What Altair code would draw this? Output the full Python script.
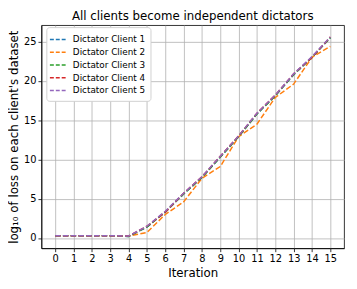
import altair as alt
import pandas as pd

iterations = list(range(16))
client1 = [0.3, 0.3, 0.3, 0.3, 0.2, 1.4, 3.3, 5.6, 7.7, 10.3, 12.9, 15.8, 18.1, 20.8, 23.0, 25.5]
client2 = [0.3, 0.3, 0.3, 0.3, 0.25, 0.7, 3.0, 4.6, 7.6, 9.1, 12.9, 14.5, 17.9, 19.6, 23.0, 24.4]
client3 = [0.3, 0.3, 0.3, 0.3, 0.2, 1.4, 3.3, 5.6, 7.7, 10.3, 12.9, 15.8, 18.1, 20.8, 23.0, 25.5]
client4 = [0.3, 0.3, 0.3, 0.3, 0.25, 1.5, 3.3, 5.7, 7.8, 10.4, 13.0, 15.9, 18.2, 20.9, 23.0, 25.6]
client5 = [0.3, 0.3, 0.3, 0.3, 0.25, 1.5, 3.4, 5.7, 7.8, 10.4, 13.0, 15.9, 18.2, 20.9, 23.1, 25.6]

names = ["Dictator Client 1", "Dictator Client 2", "Dictator Client 3",
         "Dictator Client 4", "Dictator Client 5"]
colors = ["#1f77b4", "#ff7f0e", "#2ca02c", "#d62728", "#9467bd"]
series = [client1, client2, client3, client4, client5]

rows = []
for i, (n, s) in enumerate(zip(names, series)):
    for x, v in zip(iterations, s):
        rows.append({"Iteration": x, "value": v, "client": n, "ord": i})
df = pd.DataFrame(rows)

chart = alt.Chart(df).mark_line(strokeDash=[5.5, 2.4], strokeWidth=1.5, clip=True).encode(
    x=alt.X("Iteration:Q",
            scale=alt.Scale(domain=[-0.75, 15.75], nice=False, zero=False),
            axis=alt.Axis(values=iterations, title="Iteration", grid=True, format="d",
                          titlePadding=4)),
    y=alt.Y("value:Q",
            scale=alt.Scale(domain=[-1.3, 27.1], nice=False, zero=False),
            axis=alt.Axis(values=[0, 5, 10, 15, 20, 25],
                          title="log₁₀ of loss on each client's dataset", grid=True,
                          titlePadding=3)),
    color=alt.Color("client:N",
                    scale=alt.Scale(domain=names, range=colors),
                    legend=alt.Legend(title=None, orient="none", legendX=5, legendY=2,
                                      symbolType="M-1.4,0H1.4", symbolDash=[4, 2],
                                      symbolStrokeWidth=1.5, symbolSize=160,
                                      labelFontSize=9, labelFont="DejaVu Sans",
                                      labelOffset=7,
                                      fillColor="white", strokeColor="#d0d0d0",
                                      padding=5, rowPadding=0, cornerRadius=3,
                                      labelLimit=200)),
    order=alt.Order("ord:Q"),
    detail="client:N",
).properties(
    width=308, height=227,
    title=alt.TitleParams("All clients become independent dictators", fontSize=12,
                          font="DejaVu Sans", fontWeight="normal", offset=2),
    autosize=alt.AutoSizeParams(type="none"),
    padding={"left": 34, "top": 15, "right": 5, "bottom": 38},
).configure_view(
    stroke="black", strokeWidth=0.8
).configure_axis(
    labelFont="DejaVu Sans", titleFont="DejaVu Sans", labelFontSize=10, titleFontSize=12,
    titleFontWeight="normal", labelColor="black", titleColor="black",
    gridColor="#b0b0b0", gridWidth=0.8, domainColor="black", domainWidth=0.8,
    tickColor="black", tickSize=3.5, tickWidth=0.8, labelPadding=2,
)

chart.save("out.html", embed_options={"renderer": "svg", "actions": False})
